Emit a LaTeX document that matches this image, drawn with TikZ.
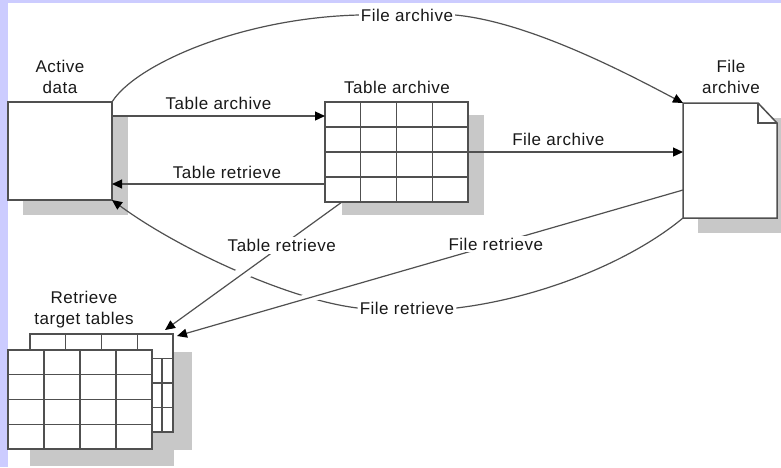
\documentclass[tikz,border=0pt]{standalone}
\usepackage{fontspec}
\setmainfont[LetterSpace=3]{Liberation Sans}
\usetikzlibrary{arrows.meta,calc}
\definecolor{lav}{RGB}{204,204,255}
\definecolor{shadowgray}{RGB}{200,200,200}
\definecolor{ln}{RGB}{80,80,80}
\definecolor{txt}{RGB}{25,25,25}
\begin{document}
\begin{tikzpicture}[x=1pt,y=-1pt,
  box/.style={draw=ln, line width=1.5pt, fill=white, inner sep=0pt, outer sep=0pt},
  gl/.style={draw=ln, line width=1.3pt},
  conn/.style={draw=ln, line width=1.2pt},
  arr/.style={conn, -{Triangle[length=10pt,width=9pt,color=black]}},
  lbl/.style={font=\fontsize{17}{21}\selectfont, text=txt, inner sep=2pt},
  wlbl/.style={lbl, fill=white},
  shadowbox/.style={fill=shadowgray}]
\useasboundingbox (0,0) rectangle (781,467);
\fill[lav] (0,0) rectangle (781,467);
\fill[white] (8,3) rectangle (781,467);

% shadows
\fill[shadowbox] (23,115) rectangle (128,215);
\fill[shadowbox] (342,115) rectangle (484,215);
\fill[shadowbox] (698,118) rectangle (792,233);
\fill[shadowbox] (49,352) rectangle (192,450);
\fill[shadowbox] (30,367) rectangle (174,466);

% Active data
\node[box, minimum width=104pt, minimum height=98pt] (active) at (60,151) {};
\node[lbl, align=center] (activelbl) at (60,77) {Active\\data};

% Table archive grid
\node[box, minimum width=143pt, minimum height=100pt] (tarch) at (396.5,152) {};
\foreach \i in {1,2,3} {
  \draw[gl] ($(tarch.north west)!\i/4!(tarch.north east)$) -- ($(tarch.south west)!\i/4!(tarch.south east)$);
  \draw[gl] ($(tarch.north west)!\i/4!(tarch.south west)$) -- ($(tarch.north east)!\i/4!(tarch.south east)$);
}
\node[lbl] (tarchlbl) at (397,87) {Table archive};

% File archive document
\node[inner sep=0pt, outer sep=0pt, minimum width=94pt, minimum height=115pt] (farch) at (730,160.5) {};
\filldraw[box] (farch.north west) -- ([xshift=-19pt]farch.north east) -- ([yshift=-20pt]farch.north east) -- (farch.south east) -- (farch.south west) -- cycle;
\draw[box, fill=none] ([xshift=-19pt]farch.north east) |- ([yshift=-20pt]farch.north east);
\node[lbl, align=center] (farchlbl) at (731,77) {File\\archive};

% Retrieve target tables (back)
\node[box, minimum width=143pt, minimum height=98pt] (rtab) at (101.5,383) {};
\foreach \i in {1,2,3} {
  \draw[gl] ($(rtab.north west)!\i/4!(rtab.north east)$) -- ($(rtab.south west)!\i/4!(rtab.south east)$);
  \draw[gl] ($(rtab.north west)!\i/4!(rtab.south west)$) -- ($(rtab.north east)!\i/4!(rtab.south east)$);
}
\draw[gl] ($(rtab.north east)!0.25!(rtab.south east)+(-11,0)$) -- ([xshift=-11pt]rtab.south east);
% front table
\node[box, minimum width=144pt, minimum height=99pt] (rtabf) at (80,399.5) {};
\foreach \i in {1,2,3} {
  \draw[gl] ($(rtabf.north west)!\i/4!(rtabf.north east)$) -- ($(rtabf.south west)!\i/4!(rtabf.south east)$);
  \draw[gl] ($(rtabf.north west)!\i/4!(rtabf.south west)$) -- ($(rtabf.north east)!\i/4!(rtabf.south east)$);
}
\node[lbl, align=center] (rtablbl) at (84,310) {Retrieve\\target tables};

% straight connectors between active data and table archive
\draw[arr] ([yshift=-14pt]active.north east) -- node[lbl, above=4pt] {Table archive} ([yshift=-14pt]tarch.north west);
\draw[arr] ([yshift=18pt]tarch.south west) coordinate (tr) -- node[lbl, above=3pt, pos=0.46] {Table retrieve} (active.east |- tr);
\draw[arr] (tarch.east) -- node[lbl, above=4pt, pos=0.42] {File archive} (farch.west |- tarch.east);

% top curve
\node[wlbl] (toplbl) at (407,15) {File archive};
\draw[conn] (active.north east) .. controls (135,65) and (240,18) .. (toplbl.west);
\draw[arr] (toplbl.east) .. controls (530,22) and (630,75) .. (farch.north west);

% bottom curve
\node[wlbl] (botlbl) at (407,308) {File retrieve};
\draw[arr] (botlbl.west) .. controls (290,300) and (180,250) .. (active.south east);
\draw[conn] (botlbl.east) .. controls (540,298) and (630,262) .. (farch.south west);

% straight retrieve connectors (crossing over the bottom curve)
\coordinate (trs) at ([xshift=17pt]tarch.south west);
\coordinate (tre) at ([xshift=-8pt,yshift=4pt]rtab.north east);
\coordinate (frs) at ([yshift=28pt]farch.south west);
\coordinate (fre) at ([xshift=4pt,yshift=-2pt]rtab.north east);
\draw[white, line width=14pt] ($(trs)!0.47!(tre)$) -- ($(trs)!0.63!(tre)$);
\draw[white, line width=9pt] ($(frs)!0.68!(fre)$) -- ($(frs)!0.78!(fre)$);
\draw[arr] (trs) -- node[wlbl, pos=0.34] {Table retrieve} (tre);
\draw[arr] (frs) -- node[wlbl, pos=0.37] {File retrieve} (fre);
\end{tikzpicture}
\end{document}
